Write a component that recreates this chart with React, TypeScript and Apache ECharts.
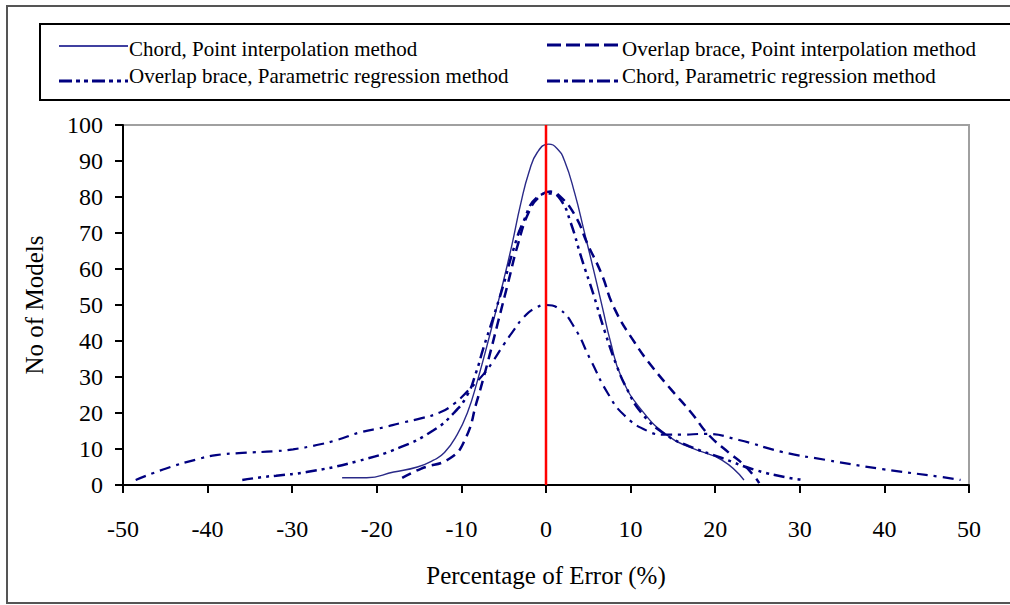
import React, { useEffect, useRef } from "react";
import * as echarts from "echarts";

const xTicks = { min: -50, max: 50, step: 10 };
const yTicks = { min: 0, max: 100, step: 10 };

const seriesNames = [
  "Chord, Point interpolation method",
  "Overlap brace, Point interpolation method",
  "Overlap brace, Parametric regression method",
  "Chord, Parametric regression method",
];

const chordPoint: number[][] = [
  [-24.1, 2], [-21.2, 2], [-18, 3.6], [-15.2, 5], [-13.3, 6.9], [-12, 9], [-10.5, 14],
  [-9.3, 20], [-8.1, 29], [-6.5, 43], [-5.1, 56], [-4, 67], [-3, 78], [-2, 87], [-1, 92.5], [0.3, 94.7],
  [1.3, 93.5], [2.2, 90], [3.4, 81], [4.5, 70.6], [5.7, 59], [6.7, 49], [7.6, 40], [8.9, 30],
  [11.3, 20.8], [14.5, 13.5], [17.2, 10.3], [20.8, 6.9], [23.4, 1.4],
];

const overlapPoint: number[][] = [
  [-17, 2], [-14.8, 4.5], [-11.3, 7.5], [-9.5, 13], [-8.2, 23], [-6.9, 34], [-5.7, 45],
  [-4.5, 56], [-3.3, 67], [-2, 76], [-0.8, 80], [0.5, 81.5], [1.5, 80.5], [3.4, 75],
  [4.9, 67], [6.5, 59], [8.1, 49], [10.5, 39.5], [12.5, 33], [14.8, 26.5], [17.2, 20],
  [19.2, 14], [21.6, 9], [23.2, 6], [24.7, 2.2], [25.2, 0.5],
];

const overlapParam: number[][] = [
  [-35.9, 1.4], [-33.5, 2.2], [-31.9, 2.6], [-28.3, 3.6], [-22.3, 6.6], [-17.2, 10.5],
  [-13.3, 15.2], [-10.9, 20], [-9.3, 25], [-8.3, 31], [-7.4, 38], [-6.3, 46], [-5.1, 55],
  [-3.9, 65], [-2.7, 73], [-1, 80], [0.6, 81], [1.8, 79], [2.9, 73], [4.2, 63],
  [5.6, 53], [6.9, 43], [8.3, 33.5], [9.5, 27], [11.3, 20], [14, 14.2], [16.9, 10.8],
  [20.8, 7.5], [24.7, 4.2], [28.7, 2], [30.6, 1.4],
];

const chordParam: number[][] = [
  [-48.5, 1.4], [-44.9, 4.6], [-41.3, 7.1], [-39, 8.3], [-35.9, 8.9], [-31.9, 9.4],
  [-29.9, 9.9], [-27.1, 11.1], [-24.7, 12.5], [-22, 14.6], [-19.2, 16], [-17.2, 17.2],
  [-14.8, 18.5], [-12.5, 20.2], [-10.9, 22.5], [-9.3, 26], [-7.3, 31], [-6.2, 34.6],
  [-5, 39], [-3.8, 43], [-2.6, 46.7], [-1.2, 49.2], [0, 50], [1.5, 49], [3.3, 44],
  [5.3, 34.6], [7.3, 25.5], [9.2, 19.5], [12, 15], [14, 14], [16, 14], [18.8, 14.2],
  [22.8, 12.5], [27.9, 9.2], [33, 7], [39.8, 4.4], [46.5, 2.3], [49, 1.4],
];

const zeroLine: number[][] = [[0, 0], [0, 100]];

const NAVY = "#000080";
const FONT = '"Liberation Serif", "Times New Roman", serif';

export default function App() {
  const ref = useRef<HTMLDivElement>(null);
  useEffect(() => {
    document.body.style.margin = "0";
    const chart = echarts.init(ref.current!, null, { renderer: "svg" });
    const legendText = (text: string, x: number, y: number) => ({
      type: "text",
      z: 20,
      x,
      y,
      style: { text, fill: "#000", fontSize: 21, fontFamily: FONT, verticalAlign: "middle" },
    });
    const legendLine = (x1: number, x2: number, y: number, dash: number[] | null, w: number) => {
      const style: any = { stroke: NAVY, lineWidth: w };
      if (dash) style.lineDash = dash;
      return { type: "line", z: 20, shape: { x1, y1: y, x2, y2: y }, style };
    };
    const option: any = {
      animation: false,
      backgroundColor: "#fff",
      grid: {
        left: 123,
        right: 41,
        top: 125,
        bottom: 120,
        show: true,
        borderColor: "#a0a0a0",
        borderWidth: 2,
      },
      xAxis: {
        type: "value",
        min: xTicks.min,
        max: xTicks.max,
        interval: xTicks.step,
        name: "Percentage of Error (%)",
        nameLocation: "middle",
        nameGap: 78,
        nameTextStyle: { fontSize: 25, fontFamily: FONT, color: "#000" },
        axisLine: { onZero: false, lineStyle: { color: "#000", width: 2 } },
        axisTick: { length: 8, lineStyle: { color: "#000", width: 2 } },
        axisLabel: { fontSize: 24, fontFamily: FONT, color: "#000", margin: 32 },
        splitLine: { show: false },
      },
      yAxis: {
        type: "value",
        min: yTicks.min,
        max: yTicks.max,
        interval: yTicks.step,
        name: "No of Models",
        nameLocation: "middle",
        nameRotate: 90,
        nameGap: 76,
        nameTextStyle: { fontSize: 25, fontFamily: FONT, color: "#000" },
        axisLine: { show: true, onZero: false, lineStyle: { color: "#000", width: 2 } },
        axisTick: { show: true, length: 8, lineStyle: { color: "#000", width: 2 } },
        axisLabel: { fontSize: 24, fontFamily: FONT, color: "#000", margin: 20 },
        splitLine: { show: false },
      },
      series: [
        {
          name: seriesNames[0], type: "line", data: chordPoint, smooth: 0.5,
          showSymbol: false, lineStyle: { color: "#2a2a88", width: 1.4 },
        },
        {
          name: seriesNames[1], type: "line", data: overlapPoint, smooth: 0.5,
          showSymbol: false, lineStyle: { color: NAVY, width: 2.5, type: [10, 6] },
        },
        {
          name: seriesNames[2], type: "line", data: overlapParam, smooth: 0.5,
          showSymbol: false, lineStyle: { color: NAVY, width: 2.5, type: [11, 5, 3, 5, 3, 5] },
        },
        {
          name: seriesNames[3], type: "line", data: chordParam, smooth: 0.5,
          showSymbol: false, lineStyle: { color: NAVY, width: 2.2, type: [11, 6, 3, 6] },
        },
        {
          name: "zero", type: "line", data: zeroLine, showSymbol: false, z: 5,
          lineStyle: { color: "#ff0000", width: 2.5 },
        },
      ],
      graphic: [
        {
          type: "rect", z: -10, shape: { x: 7, y: 6, width: 1100, height: 597 },
          style: { fill: "none", stroke: "#555", lineWidth: 2 },
        },
        {
          type: "rect", z: 10, shape: { x: 40, y: 24, width: 1100, height: 76 },
          style: { fill: "none", stroke: "#000", lineWidth: 2 },
        },
        legendLine(59, 128, 46, null, 1.5),
        legendText(seriesNames[0], 129, 49),
        legendLine(547, 620, 45, [14, 5], 3),
        legendText(seriesNames[1], 622, 49),
        legendLine(59, 128, 81, [13, 4, 4, 4, 4, 4], 3),
        legendText(seriesNames[2], 129, 76),
        legendLine(547, 620, 81, [13, 4, 4, 4], 3),
        legendText(seriesNames[3], 622, 76),
      ],
    };
    chart.setOption(option);
    return () => chart.dispose();
  }, []);
  return <div ref={ref} style={{ width: 1010, height: 605 }} />;
}
